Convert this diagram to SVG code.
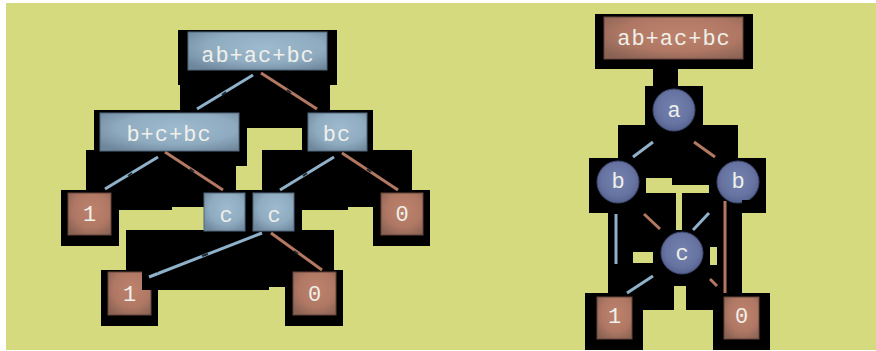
<svg xmlns="http://www.w3.org/2000/svg" width="876" height="351" viewBox="0 0 876 351">
  <defs>
    <radialGradient id="gBlue" cx="55%" cy="40%" r="70%">
      <stop offset="0" stop-color="#9dbace"/>
      <stop offset="0.6" stop-color="#8fabc0"/>
      <stop offset="1" stop-color="#6f879c"/>
    </radialGradient>
    <radialGradient id="gRed" cx="55%" cy="40%" r="70%">
      <stop offset="0" stop-color="#bd826c"/>
      <stop offset="0.6" stop-color="#b07864"/>
      <stop offset="1" stop-color="#8a6355"/>
    </radialGradient>
    <radialGradient id="gNode" cx="50%" cy="45%" r="55%">
      <stop offset="0" stop-color="#7482b0"/>
      <stop offset="0.7" stop-color="#6774a2"/>
      <stop offset="1" stop-color="#56628e"/>
    </radialGradient>
    <style>
      .bg { fill: #d4da7d; }
      .blk { fill: #000; }
      .hole { fill: #d4da7d; }
      .bx { fill: url(#gBlue); stroke: #51677a; stroke-width: 1; }
      .rx { fill: url(#gRed); stroke: #654338; stroke-width: 1; }
      .nd { fill: url(#gNode); stroke: #3f4970; stroke-width: 1; }
      .t { font-family: 'Liberation Mono', 'DejaVu Sans Mono', monospace; font-size: 22px; letter-spacing: 1px; fill: #f0f0ea; text-anchor: middle; }
      .hi { stroke: #8fb1c9; stroke-width: 3; fill: none; stroke-linecap: butt; }
      .lo { stroke: #b27862; stroke-width: 3; fill: none; stroke-linecap: butt; }
      .tick { stroke: #1e2a33; stroke-width: 2; fill: none; }
    </style>
  </defs>

  <!-- page -->
  <rect x="0" y="0" width="876" height="351" fill="#ffffff"/>
  <rect class="bg" x="6" y="3" width="870" height="347"/>

  <!-- dark backing panels, left tree -->
  <g id="backing-left" class="blk">
    <rect x="178" y="30" width="159" height="55"/>
    <rect x="180" y="85" width="150" height="43"/>
    <rect x="94" y="110" width="153" height="56"/>
    <rect x="302" y="110" width="71" height="40"/>
    <rect x="86" y="150" width="150" height="40"/>
    <rect x="236" y="150" width="9" height="16"/>
    <rect x="262" y="150" width="150" height="40"/>
    <rect x="61" y="190" width="58" height="56"/>
    <rect x="119" y="190" width="53" height="20"/>
    <rect x="172" y="190" width="32" height="17"/>
    <rect x="204" y="190" width="98" height="40"/>
    <rect x="302" y="190" width="46" height="20"/>
    <rect x="348" y="190" width="25" height="17"/>
    <rect x="373" y="190" width="57" height="56"/>
    <rect x="126" y="230" width="208" height="40"/>
    <rect x="158" y="270" width="111" height="20"/>
    <rect x="269" y="270" width="16" height="17"/>
    <rect x="101" y="270" width="57" height="56"/>
    <rect x="285" y="270" width="58" height="56"/>
  </g>

  <!-- dark backing panels, right tree -->
  <g id="backing-right" class="blk">
    <rect x="595" y="14" width="158" height="55"/>
    <rect x="653" y="69" width="25" height="17"/>
    <rect x="645" y="86" width="58" height="39"/>
    <rect x="618" y="125" width="120" height="33"/>
    <rect x="589" y="158" width="177" height="55"/>
    <rect x="608" y="213" width="134" height="80"/>
    <rect x="643" y="293" width="31" height="17"/>
    <rect x="686" y="293" width="27" height="17"/>
    <rect x="585" y="293" width="58" height="57"/>
    <rect x="713" y="293" width="57" height="57"/>
  </g>
  <g id="gaps-right" class="hole">
    <rect x="646" y="178" width="26" height="15"/>
    <rect x="672" y="185" width="37" height="8"/>
    <rect x="676" y="193" width="6" height="37"/>
    <rect x="633" y="252" width="20" height="11"/>
    <rect x="710" y="247" width="7" height="18"/>
    <rect x="674" y="286" width="12" height="24"/>
  </g>

  <!-- connectors -->
  <g id="connectors">
    <line class="hi" x1="253" y1="75" x2="197" y2="109"/>
    <line class="lo" x1="261" y1="73" x2="317" y2="109"/>
    <line class="hi" x1="158" y1="157" x2="105" y2="189"/>
    <line class="lo" x1="165" y1="152" x2="223" y2="190"/>
    <line class="hi" x1="334" y1="157" x2="280" y2="190"/>
    <line class="lo" x1="342" y1="153" x2="398" y2="190"/>
    <line class="hi" x1="262" y1="233" x2="149" y2="277"/>
    <line class="lo" x1="271" y1="233" x2="322" y2="270"/>

    <line class="hi" x1="653" y1="142" x2="633" y2="157"/>
    <line class="lo" x1="694" y1="142" x2="715" y2="157"/>
    <line class="hi" x1="616" y1="214" x2="616" y2="264"/>
    <line class="lo" x1="644" y1="214" x2="660" y2="229"/>
    <line class="hi" x1="709" y1="213" x2="693" y2="230"/>
    <line class="lo" x1="725" y1="201" x2="725" y2="293"/>
    <line class="hi" x1="653" y1="276" x2="627" y2="293"/>
    <line class="lo" x1="710" y1="279" x2="717" y2="286"/>

    <!-- small marks at the middle of the long connectors -->
    <line class="tick" x1="222" y1="95" x2="226" y2="92"/>
    <line class="tick" x1="287" y1="90" x2="291" y2="93"/>
    <line class="tick" x1="128" y1="176" x2="132" y2="173"/>
    <line class="tick" x1="190" y1="169" x2="194" y2="172"/>
    <line class="tick" x1="303" y1="176" x2="307" y2="173"/>
    <line class="tick" x1="367" y1="169" x2="371" y2="172"/>
    <line class="tick" x1="202" y1="256" x2="208" y2="254"/>
    <line class="tick" x1="294" y1="251" x2="298" y2="254"/>
  </g>

  <!-- left tree nodes -->
  <g id="l-root"><rect class="bx" x="188" y="32" width="139" height="38"/><text class="t" x="258" y="62">ab+ac+bc</text></g>
  <g id="l-bcbc"><rect class="bx" x="100" y="113" width="139" height="38"/><text class="t" x="169" y="141">b+c+bc</text></g>
  <g id="l-bc"><rect class="bx" x="308" y="113" width="59" height="38"/><text class="t" x="337" y="141">bc</text></g>
  <g id="l-one-a"><rect class="rx" x="68" y="193" width="43" height="42"/><text class="t" x="90" y="221">1</text></g>
  <g id="l-c1"><rect class="bx" x="204" y="193" width="41" height="38"/><text class="t" x="226.5" y="222">c</text></g>
  <g id="l-c2"><rect class="bx" x="253" y="193" width="41" height="38"/><text class="t" x="274.5" y="222">c</text></g>
  <g id="l-zero-a"><rect class="rx" x="381" y="193" width="42" height="42"/><text class="t" x="402.5" y="221">0</text></g>
  <g id="l-one-b"><rect class="rx" x="108" y="272" width="43" height="43"/><text class="t" x="130" y="301">1</text></g>
  <g id="l-zero-b"><rect class="rx" x="293" y="272" width="43" height="43"/><text class="t" x="315" y="301">0</text></g>

  <!-- right diagram nodes -->
  <g id="r-root"><rect class="rx" x="604" y="17" width="139" height="42"/><text class="t" x="674" y="45">ab+ac+bc</text></g>
  <g id="r-a"><circle class="nd" cx="674" cy="110" r="21"/><text class="t" x="674.5" y="117">a</text></g>
  <g id="r-b1"><circle class="nd" cx="618" cy="182" r="21"/><text class="t" x="618.5" y="188">b</text></g>
  <g id="r-b2"><circle class="nd" cx="738" cy="182" r="21"/><text class="t" x="738.5" y="188">b</text></g>
  <g id="r-c"><circle class="nd" cx="682" cy="253" r="21"/><text class="t" x="682.5" y="260">c</text></g>
  <g id="r-one"><rect class="rx" x="597" y="297" width="35" height="42"/><text class="t" x="615" y="323">1</text></g>
  <g id="r-zero"><rect class="rx" x="724" y="297" width="35" height="42"/><text class="t" x="742" y="323">0</text></g>

  <!-- panels that sit over node corners -->
  <g id="overlays" class="blk">
    <rect x="142" y="270" width="16" height="20"/>
    <rect x="742" y="200" width="24" height="13"/>
  </g>
  <line class="hi" x1="149" y1="277" x2="158" y2="273.5"/>
</svg>
